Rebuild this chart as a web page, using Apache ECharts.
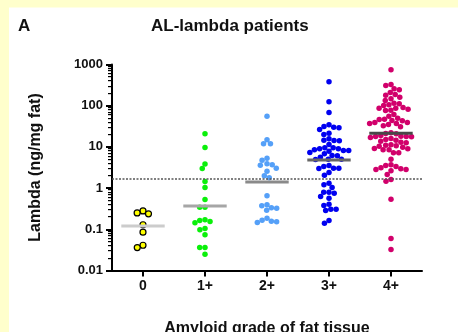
<!DOCTYPE html>
<html><head><meta charset="utf-8">
<script src="https://cdn.jsdelivr.net/npm/echarts@6/dist/echarts.min.js"></script>
<style>html,body{margin:0;padding:0;background:#fff}#c{width:458px;height:332px}</style>
</head><body><div id="c"></div>
<script>
const categories = ['0', '1+', '2+', '3+', '4+'];
const grade0 = [0.28, 0.25, 0.238, 0.129, 0.085, 0.041, 0.036];
const grade1 = [20.8, 9.7, 3.85, 2.99, 1.45, 1.03, 0.53, 0.344, 0.344, 0.17, 0.164, 0.155, 0.144, 0.105, 0.097, 0.0735, 0.0362, 0.0362, 0.0249];
const grade2 = [55.6, 14.9, 11.9, 11.9, 5.32, 4.76, 3.89, 3.68, 3.6, 3.04, 2.57, 1.99, 1.78, 0.65, 0.393, 0.372, 0.333, 0.325, 0.291, 0.186, 0.166, 0.157, 0.152, 0.146];
const grade3 = [380, 124, 68.4, 34.4, 31.3, 30.1, 29.1, 26.4, 21.5, 20, 15.7, 14.5, 14.3, 14.1, 11.4, 9.5, 9.5, 9.0, 9.0, 8.5, 8.2, 8.2, 7.87, 7.31, 6.8, 6.18, 6.08, 5.62, 5.03, 5.03, 4.95, 3.54, 3.34, 3.04, 3.04, 2.99, 2.39, 2.06, 1.31, 1.2, 1.03, 0.795, 0.795, 0.752, 0.625, 0.569, 0.407, 0.378, 0.308, 0.308, 0.286, 0.164, 0.141];
const grade4 = [743, 327, 309, 257, 243, 209, 187, 180, 161, 147, 134, 115, 111, 105, 101, 90.4, 87, 87, 82.2, 77.8, 76.4, 61.1, 55.6, 49.7, 47, 46.2, 43.7, 43, 39.1, 39.1, 37, 37, 35, 32.5, 30.8, 22, 21.1, 20.8, 18.9, 18.2, 17.9, 17.9, 17.6, 16.9, 16, 15.1, 14.5, 13.8, 13, 12.6, 11.2, 11, 10.6, 10.4, 9.84, 9.15, 9.0, 8.5, 8.5, 7.19, 7.19, 5.03, 3.68, 3.54, 3.34, 3.11, 2.94, 2.83, 2.83, 2.63, 2.14, 1.62, 1.47, 0.538, 0.0598, 0.0323];
const medians = [0.12, 0.37, 1.4, 4.8, 21.5];
const threshold = 1.67;
const yTickLabels = ['0.01', '0.1', '1', '10', '100', '1000'];
const panelLabel = 'A';
const chartTitle = 'AL-lambda patients';
const yAxisName = 'Lambda (ng/mg fat)';
const xAxisName = 'Amyloid grade of fat tissue';

const groups = [grade0, grade1, grade2, grade3, grade4];
const dotColors = ['#FFFF00', '#0AF00A', '#55A0F8', '#0000F0', '#D1006B'];
const medianColors = ['#cccccc', '#a6a6a6', '#8a8a8a', '#666666', '#484848'];
const FONT = '"Liberation Sans", Arial, sans-serif';

const minorTickValues = [];
for (let k = -2; k < 3; k++) for (let m = 2; m < 10; m++) minorTickValues.push(m * Math.pow(10, k));

const chart = echarts.init(document.getElementById('c'), null, {renderer: 'canvas'});

const scatterSeries = groups.map((g, i) => ({
  type: 'scatter', xAxisIndex: 1, yAxisIndex: 0,
  data: g.map(v => [i, v]),
  symbolSize: i === 0 ? 6 : 5.5,
  itemStyle: {color: dotColors[i], borderColor: i === 0 ? '#000' : dotColors[i], borderWidth: i === 0 ? 1.2 : 0, opacity: 1},
  z: 3, silent: true, animation: false
}));

scatterSeries[0].markLine = {
  silent: true, symbol: 'none', animation: false,
  label: {show: false},
  lineStyle: {color: '#555', type: [2, 1.5], width: 1.5},
  data: [{yAxis: threshold}]
};

const option = {
  animation: false,
  backgroundColor: '#ffffff',
  title: [
    {text: panelLabel, left: 18, top: 18, padding: 0, textStyle: {fontSize: 17, fontWeight: 'bold', color: '#111', fontFamily: FONT}},
    {text: chartTitle, left: 151, top: 18, padding: 0, textStyle: {fontSize: 17, fontWeight: 'bold', color: '#111', fontFamily: FONT}}
  ],
  grid: {left: 112, right: 36, top: 64.5, bottom: 61.5, containLabel: false, outerBoundsMode: 'none'},
  xAxis: [
    {
      type: 'category', data: categories, boundaryGap: true,
      axisLine: {onZero: false, lineStyle: {color: '#000', width: 2}},
      axisTick: {show: true, alignWithLabel: true, length: 6, lineStyle: {color: '#000', width: 2}},
      axisLabel: {color: '#111', fontWeight: 'bold', fontSize: 14, fontFamily: FONT, margin: 9},
      splitLine: {show: false},
      name: xAxisName, nameLocation: 'middle', nameGap: 50,
      nameTextStyle: {color: '#111', fontWeight: 'bold', fontSize: 16, fontFamily: FONT}
    },
    {type: 'value', min: -0.5, max: 4.5, show: false, splitLine: {show: false}}
  ],
  yAxis: {
    type: 'log', logBase: 10, min: 0.01, max: 1000, splitNumber: 5,
    axisLine: {show: true, onZero: false, lineStyle: {color: '#000', width: 2}},
    axisTick: {show: true, length: 6, lineStyle: {color: '#000', width: 2}},
    axisLabel: {color: '#111', fontWeight: 'bold', fontSize: 13, fontFamily: FONT, margin: 9,
      formatter: v => yTickLabels[Math.round(Math.log10(v)) + 2]},
    splitLine: {show: false},
    name: yAxisName, nameLocation: 'middle', nameGap: 68, nameRotate: 90,
    nameTextStyle: {color: '#111', fontWeight: 'bold', fontSize: 16, fontFamily: FONT}
  },
  series: scatterSeries.concat([
    {
      type: 'custom', xAxisIndex: 1, yAxisIndex: 0, silent: true, z: 4, animation: false,
      data: medians.map((m, i) => [i, m]),
      renderItem: (params, api) => {
        const x = api.value(0), y = api.value(1);
        const a = api.coord([x - 0.35, y]);
        const b = api.coord([x + 0.35, y]);
        return {type: 'line', shape: {x1: a[0], y1: a[1], x2: b[0], y2: b[1]},
          style: {stroke: medianColors[params.dataIndex], lineWidth: 3}};
      }
    }
  ])
};

chart.setOption(option);

function swarm(i) {
  const toPx = v => chart.convertToPixel({seriesIndex: i}, [i, v]);
  const unit = chart.convertToPixel({seriesIndex: i}, [i + 1, 1])[0] - chart.convertToPixel({seriesIndex: i}, [i, 1])[0];
  const D = i === 0 ? 6.2 : 5.3;
  const items = groups[i].map(v => ({v: v, y: toPx(v)[1], x: 0}));
  items.sort((a, b) => a.y - b.y);
  const placed = [];
  items.forEach(it => {
    const cands = [0];
    placed.forEach(q => {
      const dy = Math.abs(q.y - it.y);
      if (dy < D) { const dx = Math.sqrt(D * D - dy * dy); cands.push(q.x + dx, q.x - dx); }
    });
    cands.sort((a, b) => Math.abs(a) - Math.abs(b) || a - b);
    let chosen = 0;
    for (const c of cands) {
      if (placed.every(q => (q.x - c) * (q.x - c) + (q.y - it.y) * (q.y - it.y) >= D * D - 0.01)) { chosen = c; break; }
    }
    it.x = chosen;
    placed.push(it);
  });
  return items.map(it => [i + it.x / unit, it.v]);
}

// minor ticks of the log axis, positioned through the axis scale
const axisX = chart.convertToPixel({seriesIndex: 0}, [-0.5, 1])[0];
const tickEls = minorTickValues.map(v => {
  const py = chart.convertToPixel({seriesIndex: 0}, [-0.5, v])[1];
  return {type: 'rect', shape: {x: axisX - 4, y: Math.floor(py), width: 4, height: 1.2},
    style: {fill: '#000'}, silent: true};
});

const bgElements = [
  {type: 'rect', shape: {x: 0, y: 0, width: 9, height: 332}, style: {fill: '#FFFFCC'}, silent: true},
  {type: 'rect', shape: {x: 0, y: 0, width: 458, height: 7.5}, style: {fill: '#FFFFCC'}, silent: true}
];

chart.setOption({
  series: groups.map((g, i) => ({data: swarm(i)})),
  graphic: {elements: bgElements.concat(tickEls)}
});
</script>
</body></html>
